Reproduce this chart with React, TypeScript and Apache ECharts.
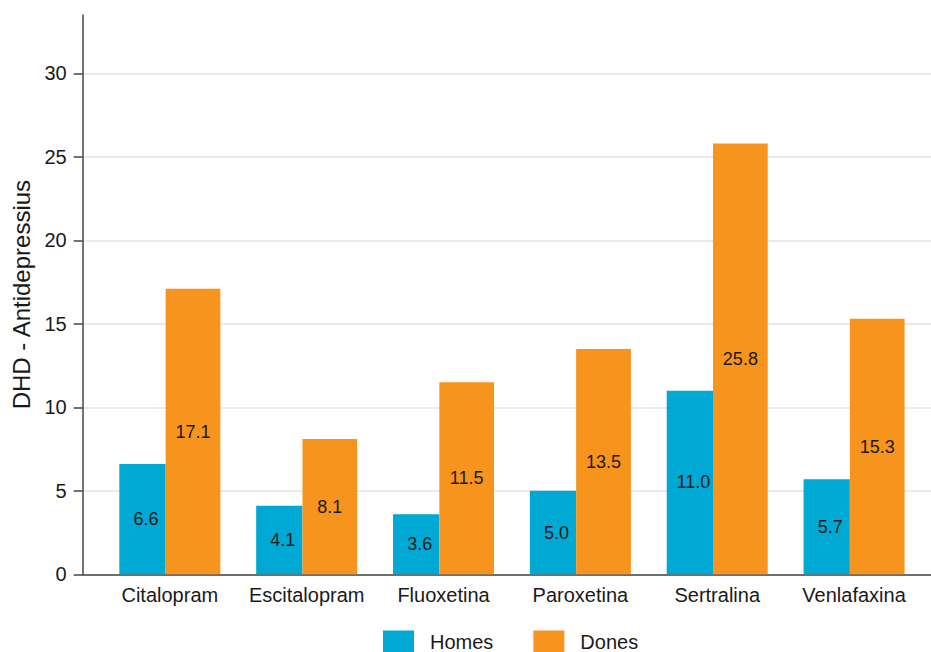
import React, { useEffect, useRef } from "react";
import * as echarts from "echarts";

const categories = ["Citalopram", "Escitalopram", "Fluoxetina", "Paroxetina", "Sertralina", "Venlafaxina"];
const homes = [6.6, 4.1, 3.6, 5.0, 11.0, 5.7];
const dones = [17.1, 8.1, 11.5, 13.5, 25.8, 15.3];
const yTicks = [0, 5, 10, 15, 20, 25, 30];
const seriesNames = ["Homes", "Dones"];
const yTitle = "DHD - Antidepressius";

const FONT = "'Liberation Sans', Arial, sans-serif";
const TEXT = "#1a1a1a";
const AXIS = "#444444";

export default function App() {
  const ref = useRef<HTMLDivElement>(null);
  useEffect(() => {
    if (!ref.current) return;
    const chart = echarts.init(ref.current, undefined, { renderer: "svg" });
    const label = (offset: number[]) => ({
      show: true,
      position: "inside",
      fontSize: 18,
      color: TEXT,
      fontFamily: FONT,
      offset,
      formatter: (p: any) => Number(p.value).toFixed(1),
    });
    chart.setOption({
      animation: false,
      textStyle: { fontFamily: FONT },
      grid: [
        { left: 82.7, right: 0, top: 15, bottom: 77.7 },
        { left: 101.4, width: 821.1, top: 15, bottom: 77.7 },
      ],
      xAxis: [
        {
          gridIndex: 0,
          type: "value",
          min: 0,
          max: 1,
          axisLine: { show: true, lineStyle: { color: AXIS, width: 1.5 } },
          axisTick: { show: false },
          axisLabel: { show: false },
          splitLine: { show: false },
        },
        {
          gridIndex: 1,
          type: "category",
          data: categories,
          axisLine: { show: false },
          axisTick: { show: false },
          axisLabel: { interval: 0, fontSize: 20, color: TEXT, margin: 11, fontFamily: FONT },
        },
      ],
      yAxis: [
        {
          gridIndex: 0,
          type: "value",
          min: 0,
          max: 33.5,
          interval: 5,
          name: yTitle,
          nameLocation: "middle",
          nameGap: 47,
          nameTextStyle: { fontSize: 24, color: TEXT, fontFamily: FONT },
          axisLine: { show: true, lineStyle: { color: AXIS, width: 1.5 } },
          axisTick: { show: true, length: 9, customValues: yTicks, lineStyle: { color: AXIS, width: 1.5 } },
          axisLabel: { customValues: yTicks, fontSize: 20, margin: 16, color: TEXT, fontFamily: FONT },
          splitLine: { show: true, lineStyle: { color: "#e3e3e3", width: 1.5 } },
        },
        { gridIndex: 1, type: "value", min: 0, max: 33.5, show: false },
      ],
      legend: {
        data: seriesNames,
        left: 383,
        top: 630.5,
        padding: 0,
        itemWidth: 31,
        itemHeight: 22,
        itemGap: 40,
        icon: "rect",
        textStyle: { fontSize: 20, color: TEXT, fontFamily: FONT, padding: [0, 0, 0, 11] },
      },
      series: [
        {
          name: seriesNames[0],
          type: "bar",
          xAxisIndex: 1,
          yAxisIndex: 1,
          data: homes,
          barWidth: 46.3,
          barGap: "0%",
          itemStyle: { color: "#00A9D3" },
          label: label([3.5, 0]),
        },
        {
          name: seriesNames[1],
          type: "bar",
          xAxisIndex: 1,
          yAxisIndex: 1,
          data: dones,
          barWidth: 54.7,
          barGap: "0%",
          itemStyle: { color: "#F7941E" },
          label: label([0, 0]),
        },
      ],
    });
    return () => chart.dispose();
  }, []);
  return (
    <div
      ref={ref}
      style={{ position: "fixed", left: 0, top: 0, width: 931, height: 652, background: "#ffffff" }}
    />
  );
}
